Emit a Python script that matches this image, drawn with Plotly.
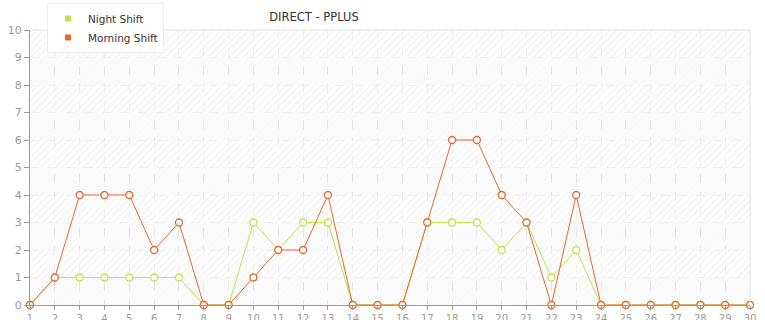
import plotly.graph_objects as go

days = list(range(1, 31))
night_shift = [0, 1, 1, 1, 1, 1, 1, 0, 0, 3, 2, 3, 3, 0, 0, 0, 3, 3, 3, 2, 3, 1, 2, 0, 0, 0, 0, 0, 0, 0]
morning_shift = [0, 1, 4, 4, 4, 2, 3, 0, 0, 1, 2, 2, 4, 0, 0, 0, 3, 6, 6, 4, 3, 0, 4, 0, 0, 0, 0, 0, 0, 0]
y_ticks = list(range(0, 11))
title_text = "DIRECT - PPLUS"

NIGHT_C = "#c3e14b"
MORN_C = "#e3692f"

fig = go.Figure()

# background bands (decorative hatching)
fig.add_trace(go.Bar(
    x=[15.5] * 10, y=[1] * 10, base=list(range(0, 10)), width=29,
    marker=dict(color="rgba(0,0,0,0)", line=dict(width=0),
                pattern=dict(shape="/", fgcolor="#f1f1f1", bgcolor="rgba(0,0,0,0)", size=5, solidity=0.15)),
    hoverinfo="skip", showlegend=False))
fig.add_trace(go.Bar(
    x=[15.5] * 5, y=[1] * 5, base=[1, 3, 5, 7, 9], width=29,
    marker=dict(color="rgba(0,0,0,0)", line=dict(width=0),
                pattern=dict(shape="/", fgcolor="#e9e9e9", bgcolor="rgba(255,255,255,0.5)", size=5, solidity=0.2)),
    hoverinfo="skip", showlegend=False))

fig.add_trace(go.Scatter(
    x=days, y=night_shift, mode="lines+markers", name="Night Shift",
    line=dict(color=NIGHT_C, width=1),
    marker=dict(symbol="circle", size=7, color="white", line=dict(color=NIGHT_C, width=1.3)),
    cliponaxis=False, showlegend=False))
fig.add_trace(go.Scatter(
    x=days, y=morning_shift, mode="lines+markers", name="Morning Shift",
    line=dict(color=MORN_C, width=1),
    marker=dict(symbol="circle", size=7, color="white", line=dict(color=MORN_C, width=1.3)),
    cliponaxis=False, showlegend=False))

# legend entries with square symbols
fig.add_trace(go.Scatter(x=[None], y=[None], mode="markers", name="Night Shift",
                         marker=dict(symbol="square", size=6, color=NIGHT_C)))
fig.add_trace(go.Scatter(x=[None], y=[None], mode="markers", name="Morning Shift",
                         marker=dict(symbol="square", size=6, color=MORN_C)))

fig.update_layout(
    width=765, height=320,
    margin=dict(l=30, r=15, t=30, b=15, autoexpand=False),
    paper_bgcolor="white",
    plot_bgcolor="#fafafa",
    barmode="overlay",
    bargap=0,
    font=dict(family="DejaVu Sans", size=11, color="#999999"),
    title=dict(text=title_text, x=314 / 765, xanchor="center", xref="container",
               y=1 - 17 / 320, yanchor="middle", yref="container",
               font=dict(family="DejaVu Sans", size=11.5, color="#333333")),
    legend=dict(x=17 / 720, xanchor="left", y=1 + 27 / 275, yanchor="top",
                bgcolor="white", bordercolor="#eeeeee", borderwidth=1,
                font=dict(family="DejaVu Sans", size=10.5, color="#333333"),
                tracegroupgap=0, itemwidth=30),
    xaxis=dict(range=[1, 30], tickmode="array", tickvals=days, ticktext=[str(d) for d in days],
               showgrid=True, gridcolor="#e4e4e4", griddash="dash", gridwidth=1,
               showline=True, linecolor="#999999", linewidth=1,
               ticks="outside", ticklen=4, tickcolor="#999999", automargin=False,
               tickfont=dict(size=10, color="#999999"), zeroline=False, fixedrange=True),
    yaxis=dict(range=[0, 10], tickmode="array", tickvals=y_ticks,
               showgrid=True, gridcolor="#e4e4e4", griddash="dash", gridwidth=1,
               showline=True, linecolor="#999999", linewidth=1,
               ticks="outside", ticklen=5, tickcolor="#999999", automargin=False,
               tickfont=dict(size=11, color="#999999"), zeroline=False, fixedrange=True),
    shapes=[
        dict(type="line", xref="x domain", yref="y domain", x0=0, x1=1, y0=1, y1=1,
             line=dict(color="#e2e2e2", width=1)),
        dict(type="line", xref="x domain", yref="y domain", x0=1, x1=1, y0=0, y1=1,
             line=dict(color="#e2e2e2", width=1)),
    ],
)

fig.write_html("out.html")
